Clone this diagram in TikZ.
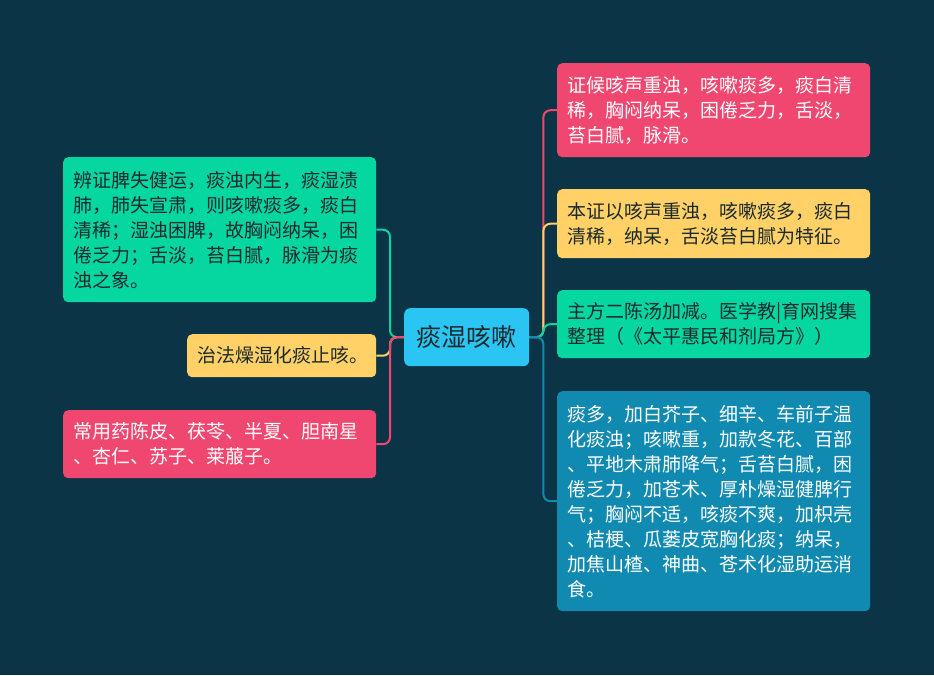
\documentclass[tikz,border=0pt]{standalone}
\usepackage{fontspec}
\newfontfamily\cjk{Noto Sans CJK SC}
\definecolor{bg}{HTML}{0B3446}
\definecolor{cpink}{HTML}{EF476F}
\definecolor{cyellow}{HTML}{FFD166}
\definecolor{cgreen}{HTML}{06D6A0}
\definecolor{cblue}{HTML}{118AB2}
\definecolor{ccenter}{HTML}{2BC5F3}
\definecolor{darktext}{HTML}{1C2A2E}
\tikzset{
  box/.style={anchor=north west, rounded corners=5pt, inner xsep=10pt, inner ysep=0pt,
    align=left, text width=293pt, minimum height=#1, font=\cjk\fontsize{19}{25}\selectfont},
  pinkbox/.style={box=#1, fill=cpink, text=white},
  yellowbox/.style={box=#1, fill=cyellow, text=darktext},
  greenbox/.style={box=#1, fill=cgreen, text=darktext},
  bluebox/.style={box=#1, fill=cblue, text=white},
  link/.style={line width=2pt, rounded corners=7pt, draw=#1},
}
\begin{document}
\begin{tikzpicture}[x=1pt,y=-1pt]
\fill[bg] (0,0) rectangle (934,675);
\useasboundingbox (0,0) rectangle (934,675);

\node[anchor=north west, fill=ccenter, rounded corners=6pt, minimum width=125pt, minimum height=58pt,
  inner sep=0pt, text=darktext, font=\cjk\fontsize{25}{29}\selectfont] (c) at (404,308) {痰湿咳嗽};

\node[pinkbox=94pt] (r1) at (557,63) {证候咳声重浊，咳嗽痰多，痰白清\\稀，胸闷纳呆，困倦乏力，舌淡，\\苔白腻，脉滑。};
\node[yellowbox=69pt] (r2) at (557,189) {本证以咳声重浊，咳嗽痰多，痰白\\清稀，纳呆，舌淡苔白腻为特征。};
\node[greenbox=68pt] (r3) at (557,290) {主方二陈汤加减。医学教|育网搜集\\整理（《太平惠民和剂局方》）};
\node[bluebox=220pt] (r4) at (557,391) {痰多，加白芥子、细辛、车前子温\\化痰浊；咳嗽重，加款冬花、百部\\、平地木肃肺降气；舌苔白腻，困\\倦乏力，加苍术、厚朴燥湿健脾行\\气；胸闷不适，咳痰不爽，加枳壳\\、桔梗、瓜蒌皮宽胸化痰；纳呆，\\加焦山楂、神曲、苍术化湿助运消\\食。};

\node[greenbox=145pt] (l1) at (63,157) {辨证脾失健运，痰浊内生，痰湿渍\\肺，肺失宣肃，则咳嗽痰多，痰白\\清稀；湿浊困脾，故胸闷纳呆，困\\倦乏力；舌淡，苔白腻，脉滑为痰\\浊之象。};
\node[yellowbox=43pt, text width=169pt] (l2) at (187,334) {治法燥湿化痰止咳。};
\node[pinkbox=68pt] (l3) at (63,410) {常用药陈皮、茯苓、半夏、胆南星\\、杏仁、苏子、莱菔子。};

\draw[link=cpink] (c.east) -- ++(14,0) |- (r1.west);
\draw[link=cyellow] (c.east) -- ++(14,0) |- (r2.west);
\draw[link=cgreen] (c.east) -- ++(14,0) |- (r3.west);
\draw[link=cblue] (c.east) -- ++(14,0) |- (r4.west);

\draw[link=cgreen] (c.west) -- ++(-14,0) |- (l1.east);
\draw[link=cyellow] (c.west) -- ++(-14,0) |- (l2.east);
\draw[link=cpink] (c.west) -- ++(-14,0) |- (l3.east);
\end{tikzpicture}
\end{document}
